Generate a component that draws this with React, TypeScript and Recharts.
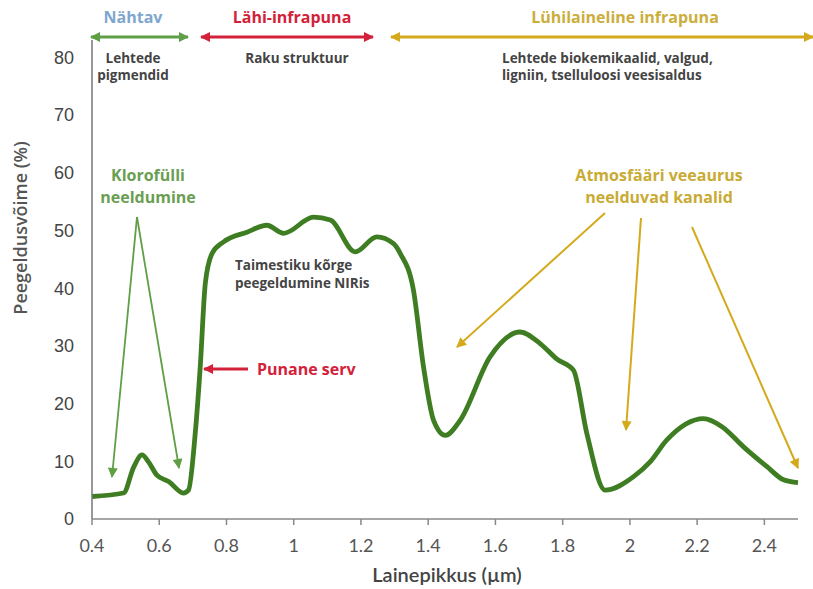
import React from 'react';
import { LineChart, Line, XAxis, YAxis } from 'recharts';

// wavelength (µm) and reflectance (%)
const wavelength = [
  0.4, 0.494, 0.524, 0.549, 0.568, 0.593, 0.628, 0.672, 0.687, 0.707, 0.722, 0.737, 0.757, 0.791,
  0.861, 0.92, 0.97, 1.059, 1.109, 1.183, 1.247, 1.297, 1.317, 1.356, 1.386, 1.416, 1.451, 1.495,
  1.584, 1.673, 1.733, 1.783, 1.832, 1.872, 1.926, 2.01, 2.06, 2.11, 2.219, 2.274, 2.338, 2.407,
  2.457, 2.5,
];
const reflectance = [
  3.9, 4.5, 9.0, 11.1, 9.9, 7.6, 6.5, 4.5, 5.0, 14.8, 26.4, 40.8, 46.0, 48.0,
  49.7, 50.9, 49.5, 52.3, 51.8, 46.3, 48.9, 47.7, 46.0, 39.7, 26.4, 17.1, 14.5, 17.1,
  28.1, 32.4, 30.4, 27.7, 25.8, 14.8, 5.0, 7.3, 9.9, 13.7, 17.4, 16.0, 12.5, 9.1,
  6.8, 6.3,
];
const xTicks = [0.4, 0.6, 0.8, 1, 1.2, 1.4, 1.6, 1.8, 2, 2.2, 2.4];
const yTicks = [0, 10, 20, 30, 40, 50, 60, 70, 80];

const data = wavelength.map((w, i) => ({ w, r: reflectance[i] }));

const GREEN = '#5f9f45';
const RED = '#d3213a';
const GOLD = '#d4aa1c';
const DARK = '#444';
const FONT = '"Open Sans", sans-serif';

function Overlay() {
  const bold = { fontFamily: FONT, fontWeight: 700 } as const;
  return (
    <svg
      width={813}
      height={589}
      style={{ position: 'absolute', left: 0, top: 0, pointerEvents: 'none' }}
    >
      <defs>
        {[
          ['hg', GREEN],
          ['hr', RED],
          ['hy', GOLD],
        ].map(([id, c]) => (
          <marker
            key={id}
            id={id}
            viewBox="0 0 10 10"
            refX="9"
            refY="5"
            markerWidth="11"
            markerHeight="10"
            markerUnits="userSpaceOnUse"
            orient="auto-start-reverse"
          >
            <path d="M0,0 L10,5 L0,10 z" fill={c} />
          </marker>
        ))}
      </defs>

      {/* spectral regions */}
      <text x={133} y={23} textAnchor="middle" fontSize={16} fill="#7ea6cf" {...bold}>Nähtav</text>
      <text x={292} y={23} textAnchor="middle" fontSize={16} fill={RED} {...bold}>Lähi-infrapuna</text>
      <text x={625} y={23} textAnchor="middle" fontSize={16} fill="#cbae3c" {...bold}>Lühilaineline infrapuna</text>
      <line x1={91} y1={37} x2={188} y2={37} stroke={GREEN} strokeWidth={3} markerStart="url(#hg)" markerEnd="url(#hg)" />
      <line x1={201} y1={37} x2={373} y2={37} stroke={RED} strokeWidth={3} markerStart="url(#hr)" markerEnd="url(#hr)" />
      <line x1={391} y1={37} x2={813} y2={37} stroke={GOLD} strokeWidth={3} markerStart="url(#hy)" markerEnd="url(#hy)" />

      <text x={133} y={63} textAnchor="middle" fontSize={13.5} fill={DARK} {...bold}>Lehtede</text>
      <text x={133} y={80} textAnchor="middle" fontSize={13.5} fill={DARK} {...bold}>pigmendid</text>
      <text x={297} y={63} textAnchor="middle" fontSize={13.5} fill={DARK} {...bold}>Raku struktuur</text>
      <text x={502} y={63} fontSize={13.5} fill={DARK} {...bold}>Lehtede biokemikaalid, valgud,</text>
      <text x={502} y={80} fontSize={13.5} fill={DARK} {...bold}>ligniin, tselluloosi veesisaldus</text>

      {/* chlorophyll */}
      <text x={148} y={181} textAnchor="middle" fontSize={16} fill="#6a9e52" {...bold}>Klorofülli</text>
      <text x={148} y={203} textAnchor="middle" fontSize={16} fill="#6a9e52" {...bold}>neeldumine</text>
      <line x1={137} y1={217} x2={112} y2={477} stroke={GREEN} strokeWidth={1.8} markerEnd="url(#hg)" />
      <line x1={137} y1={217} x2={179} y2={468} stroke={GREEN} strokeWidth={1.8} markerEnd="url(#hg)" />

      <text x={235} y={270} fontSize={13.5} fill={DARK} {...bold}>Taimestiku kõrge</text>
      <text x={235} y={288} fontSize={13.5} fill={DARK} {...bold}>peegeldumine NIRis</text>

      <text x={257} y={375} fontSize={16} fill={RED} {...bold}>Punane serv</text>
      <line x1={248} y1={369} x2={204} y2={369} stroke={RED} strokeWidth={3} markerEnd="url(#hr)" />

      {/* water vapour */}
      <text x={659} y={181} textAnchor="middle" fontSize={16} fill="#c9ab34" {...bold}>Atmosfääri veeaurus</text>
      <text x={659} y={203} textAnchor="middle" fontSize={16} fill="#c9ab34" {...bold}>neelduvad kanalid</text>
      <line x1={605} y1={213} x2={457} y2={347} stroke={GOLD} strokeWidth={2} markerEnd="url(#hy)" />
      <line x1={641} y1={218} x2={626} y2={430} stroke={GOLD} strokeWidth={2} markerEnd="url(#hy)" />
      <line x1={692} y1={227} x2={798} y2={468} stroke={GOLD} strokeWidth={2} markerEnd="url(#hy)" />

      {/* axis titles */}
      <text
        x={20}
        y={228}
        transform="rotate(-90 20 228)"
        textAnchor="middle"
        dominantBaseline="central"
        fontSize={18}
        fontFamily={FONT}
        fontWeight={600}
        fill="#555"
      >
        Peegeldusvõime (%)
      </text>
      <text x={447} y={582} textAnchor="middle" fontSize={20} fontFamily="Lato, sans-serif" fontWeight={600} fill="#444">
        Lainepikkus (µm)
      </text>
    </svg>
  );
}

export default function App() {
  return (
    <div style={{ position: 'absolute', left: 0, top: 0, width: 813, height: 589, background: '#fff' }}>
      <LineChart width={813} height={589} data={data} margin={{ top: 40, right: 15, bottom: 30, left: 0 }}>
        <XAxis
          dataKey="w"
          type="number"
          domain={[0.4, 2.5]}
          ticks={xTicks}
          height={40}
          axisLine={{ stroke: '#888', strokeWidth: 1.5 }}
          tickLine={{ stroke: '#888', strokeWidth: 1.5 }}
          tickSize={6}
          tickMargin={14}
          tick={{ fill: '#555', fontSize: 18, fontFamily: 'Lato, sans-serif' }}
        />
        <YAxis
          type="number"
          domain={[0, 83]}
          ticks={yTicks}
          width={92}
          axisLine={{ stroke: '#777', strokeWidth: 1.5 }}
          tickLine={false}
          tickMargin={12}
          tick={{ fill: '#444', fontSize: 18, fontFamily: '"Liberation Sans", Arial, sans-serif' }}
        />
        <Line
          type="monotone"
          dataKey="r"
          stroke="#3e7d22"
          strokeWidth={4.8}
          dot={false}
          isAnimationActive={false}
        />
      </LineChart>
      <Overlay />
    </div>
  );
}
